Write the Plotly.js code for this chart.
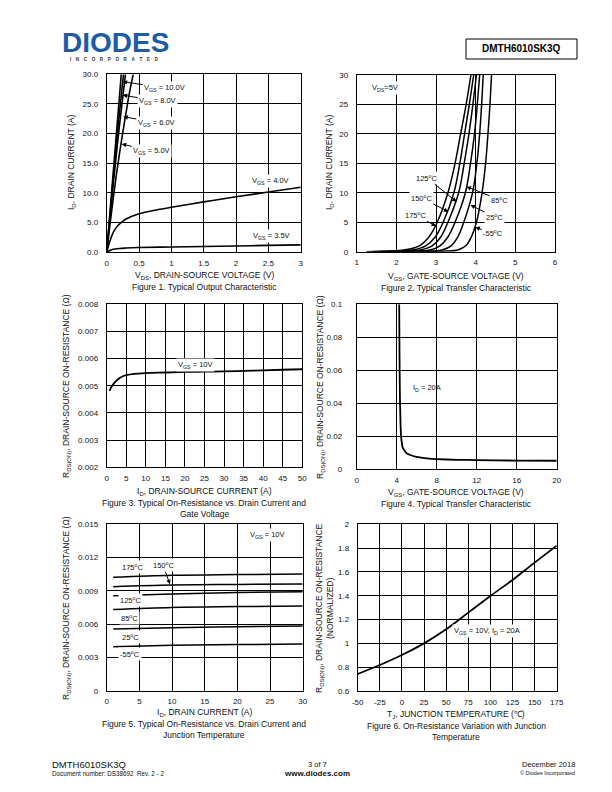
<!DOCTYPE html>
<html><head><meta charset="utf-8">
<script src="https://cdn.plot.ly/plotly-3.0.1.min.js"></script>
<style>html,body{margin:0;padding:0;background:#fff}</style>
</head><body>
<div id="chart" style="width:612px;height:792px"></div>
<script>
// ---------- Figure 1: output characteristic ----------
const f1_vgs10_x = [0, 0.05, 0.1, 0.15, 0.2, 0.225];
const f1_vgs10_y = [0, 6.6, 13.3, 20.0, 26.6, 30];
const f1_vgs8_x = [0, 0.05, 0.1, 0.15, 0.2, 0.26];
const f1_vgs8_y = [0, 6.2, 12.3, 18.2, 23.8, 30];
const f1_vgs6_x = [0, 0.05, 0.1, 0.15, 0.2, 0.25, 0.29];
const f1_vgs6_y = [0, 5.7, 11.3, 16.6, 21.6, 26.3, 30];
const f1_vgs5_x = [0, 0.05, 0.1, 0.15, 0.2, 0.25, 0.3, 0.35, 0.41];
const f1_vgs5_y = [0, 4.6, 9.0, 13.1, 16.8, 20.3, 23.6, 26.8, 30];
const f1_vgs4_x = [0, 0.05, 0.1, 0.15, 0.2, 0.3, 0.5, 0.75, 1, 1.5, 2, 2.5, 3];
const f1_vgs4_y = [0, 1.9, 3.3, 4.2, 4.8, 5.6, 6.5, 7.1, 7.6, 8.5, 9.35, 10.15, 10.95];
const f1_vgs35_x = [0, 0.05, 0.1, 0.2, 0.3, 0.5, 1, 1.5, 2, 2.5, 3];
const f1_vgs35_y = [0, 0.3, 0.5, 0.65, 0.72, 0.8, 0.9, 0.98, 1.07, 1.16, 1.25];
const f1_xticks = [0, 0.5, 1, 1.5, 2, 2.5, 3];
const f1_xtext = ["0", "0.5", "1", "1.5", "2", "2.5", "3"];
const f1_yticks = [0, 5, 10, 15, 20, 25, 30];
const f1_ytext = ["0.0", "5.0", "10.0", "15.0", "20.0", "25.0", "30.0"];

// ---------- Figure 2: transfer characteristic ----------
const f2_id = [0, 0.1, 0.3, 1, 2.5, 5, 10, 15, 20, 25, 30];
const f2_vgs_175 = [1.25, 1.8, 2.2, 2.58, 2.82, 3.03, 3.3, 3.48, 3.62, 3.76, 3.88];
const f2_vgs_150 = [1.4, 2.0, 2.4, 2.74, 2.98, 3.18, 3.45, 3.6, 3.72, 3.84, 3.95];
const f2_vgs_125 = [1.55, 2.2, 2.6, 2.9, 3.12, 3.3, 3.57, 3.71, 3.83, 3.93, 4.02];
const f2_vgs_85 = [1.8, 2.45, 2.85, 3.1, 3.3, 3.48, 3.74, 3.87, 3.97, 4.04, 4.10];
const f2_vgs_25 = [2.1, 2.8, 3.15, 3.38, 3.55, 3.7, 3.92, 4.03, 4.1, 4.15, 4.19];
const f2_vgs_m55 = [2.6, 3.25, 3.55, 3.75, 3.89, 4.02, 4.16, 4.25, 4.31, 4.36, 4.40];
const f2_xticks = [1, 2, 3, 4, 5, 6];
const f2_xtext = ["1", "2", "3", "4", "5", "6"];
const f2_yticks = [0, 5, 10, 15, 20, 25, 30];
const f2_ytext = ["0", "5", "10", "15", "20", "25", "30"];

// ---------- Figure 3: Rds(on) vs drain current ----------
const f3_id = [0.7, 1.2, 2, 3, 4, 5, 7, 10, 15, 20, 25, 30, 35, 40, 45, 50];
const f3_rds = [0.00481, 0.00496, 0.00512, 0.00525, 0.00534, 0.00539, 0.00544, 0.00547, 0.00549, 0.00551, 0.00552, 0.00553, 0.00555, 0.00557, 0.00559, 0.00561];
const f3_xticks = [0, 5, 10, 15, 20, 25, 30, 35, 40, 45, 50];
const f3_xtext = ["0", "5", "10", "15", "20", "25", "30", "35", "40", "45", "50"];
const f3_yticks = [0.002, 0.003, 0.004, 0.005, 0.006, 0.007, 0.008];
const f3_ytext = ["0.002", "0.003", "0.004", "0.005", "0.006", "0.007", "0.008"];

// ---------- Figure 4: Rds(on) vs gate voltage ----------
const f4_vgs = [4.25, 4.28, 4.32, 4.38, 4.45, 4.6, 5.0, 5.5, 6, 7, 8, 10, 12, 16, 20];
const f4_rds = [0.1, 0.07, 0.045, 0.028, 0.019, 0.013, 0.0095, 0.0082, 0.0074, 0.0065, 0.006, 0.0056, 0.0054, 0.0051, 0.005];
const f4_xticks = [0, 4, 8, 12, 16, 20];
const f4_xtext = ["0", "4", "8", "12", "16", "20"];
const f4_yticks = [0, 0.02, 0.04, 0.06, 0.08, 0.1];
const f4_ytext = ["0", "0.02", "0.04", "0.06", "0.08", "0.1"];

// ---------- Figure 5: Rds(on) vs current and temperature ----------
const f5_id = [1, 10, 20, 30];
const f5_r175 = [0.01022, 0.01040, 0.01047, 0.01052];
const f5_r150 = [0.00938, 0.00953, 0.00958, 0.00962];
const f5_r125 = [0.00857, 0.00872, 0.00885, 0.00893];
const f5_r85 = [0.00733, 0.00751, 0.00758, 0.00763];
const f5_r25 = [0.00556, 0.00568, 0.00577, 0.00583];
const f5_rm55 = [0.00397, 0.00409, 0.00416, 0.00421];
const f5_xticks = [0, 5, 10, 15, 20, 25, 30];
const f5_xtext = ["0", "5", "10", "15", "20", "25", "30"];
const f5_yticks = [0, 0.003, 0.006, 0.009, 0.012, 0.015];
const f5_ytext = ["0", "0.003", "0.006", "0.009", "0.012", "0.015"];

// ---------- Figure 6: normalized Rds(on) vs temperature ----------
const f6_tj = [-50, -25, 0, 25, 50, 75, 100, 125, 150, 175];
const f6_rn = [0.743, 0.818, 0.902, 1.0, 1.118, 1.258, 1.398, 1.533, 1.678, 1.821];
const f6_xticks = [-50, -25, 0, 25, 50, 75, 100, 125, 150, 175];
const f6_xtext = ["-50", "-25", "0", "25", "50", "75", "100", "125", "150", "175"];
const f6_yticks = [0.6, 0.8, 1, 1.2, 1.4, 1.6, 1.8, 2];
const f6_ytext = ["0.6", "0.8", "1", "1.2", "1.4", "1.6", "1.8", "2"];

// ---------- helpers ----------
const W = 612, H = 792;
const FONT = 'Liberation Sans, Arial, sans-serif';
const PX = p => p / W;
const PY = p => 1 - p / H;
const TS = 8.5;   // axis title / caption size

function line(x, y, xa, ya, w, smooth) {
  return {x: x, y: y, xaxis: xa, yaxis: ya, type: 'scatter', mode: 'lines',
    line: {color: '#000', width: w || 1.6, shape: 'spline', smoothing: smooth === undefined ? 1 : smooth},
    hoverinfo: 'skip', showlegend: false, cliponaxis: true};
}

const traces = [
  line(f1_vgs10_x, f1_vgs10_y, 'x', 'y', 1.6),
  line(f1_vgs8_x, f1_vgs8_y, 'x', 'y', 1.6),
  line(f1_vgs6_x, f1_vgs6_y, 'x', 'y', 1.6),
  line(f1_vgs5_x, f1_vgs5_y, 'x', 'y', 1.6),
  line(f1_vgs4_x, f1_vgs4_y, 'x', 'y', 1.6),
  line(f1_vgs35_x, f1_vgs35_y, 'x', 'y', 1.6),
  line(f2_vgs_175, f2_id, 'x2', 'y2', 1.5),
  line(f2_vgs_150, f2_id, 'x2', 'y2', 1.5),
  line(f2_vgs_125, f2_id, 'x2', 'y2', 1.5),
  line(f2_vgs_85, f2_id, 'x2', 'y2', 1.5),
  line(f2_vgs_25, f2_id, 'x2', 'y2', 1.5),
  line(f2_vgs_m55, f2_id, 'x2', 'y2', 1.5),
  line(f3_id, f3_rds, 'x3', 'y3', 1.8),
  line(f4_vgs, f4_rds, 'x4', 'y4', 1.8, 0.4),
  line(f5_id, f5_r175, 'x5', 'y5', 1.5),
  line(f5_id, f5_r150, 'x5', 'y5', 1.5),
  line(f5_id, f5_r125, 'x5', 'y5', 1.5),
  line(f5_id, f5_r85, 'x5', 'y5', 1.5),
  line(f5_id, f5_r25, 'x5', 'y5', 1.5),
  line(f5_id, f5_rm55, 'x5', 'y5', 1.5),
  line(f6_tj, f6_rn, 'x6', 'y6', 1.8)
];

function axis(dom, range, anchor, tv, tt, isY) {
  const d = isY ? [PY(dom[1]), PY(dom[0])] : [PX(dom[0]), PX(dom[1])];
  return {domain: d, range: range, anchor: anchor, tickmode: 'array', tickvals: tv, ticktext: tt,
    showgrid: true, gridcolor: '#000', gridwidth: 1, zeroline: false,
    showline: true, linecolor: '#000', linewidth: 1, mirror: true,
    ticks: '', ticklabelstandoff: isY ? 6 : 3,
    tickfont: {family: FONT, size: 8, color: '#111'}, fixedrange: true};
}

const ann = [];
function txt(t, x, y, o) {
  ann.push(Object.assign({text: t, x: PX(x), y: PY(y), xref: 'paper', yref: 'paper',
    showarrow: false, xanchor: 'center', yanchor: 'middle',
    font: {family: FONT, size: 7.5, color: '#111'}}, o || {}));
}
function ttl(t, x, y, o) { txt(t, x, y, Object.assign({font: {family: FONT, size: TS, color: '#111'}}, o || {})); }
function lbl(t, x, y) { txt(t, x, y, {bgcolor: '#fff', borderpad: 1}); }
function arr(t, xa, ya, xv, yv, ax, ay) {
  ann.push({text: t, x: xv, y: yv, xref: xa, yref: ya, ax: ax, ay: ay, showarrow: true,
    arrowhead: 2, arrowsize: 0.9, arrowwidth: 1, arrowcolor: '#000', standoff: 0,
    bgcolor: '#fff', borderpad: 1,
    font: {family: FONT, size: 7.5, color: '#111'}});
}
const GS = 'V<sub>GS</sub>';
const deg = t => t + '<sup>o</sup>C';

// Figure 1 labels
arr(GS + ' = 10.0V', 'x', 'y', 0.247, 28.75, 42, 6);
arr(GS + ' = 8.0V', 'x', 'y', 0.247, 26.5, 35, 6);
arr(GS + ' = 6.0V', 'x', 'y', 0.257, 22.86, 33, 6);
arr(GS + ' = 5.0V', 'x', 'y', 0.232, 18.25, 30, 7);
lbl(GS + ' = 4.0V', 270, 181);
lbl(GS + ' = 3.5V', 271, 236);
ttl('V<sub>DS</sub>, DRAIN-SOURCE VOLTAGE (V)', 204, 275);
ttl('Figure 1. Typical Output Characteristic', 204, 287);
ttl('I<sub>D</sub>, DRAIN CURRENT (A)', 72, 163, {textangle: -90});

// Figure 2 labels
lbl('V<sub>DS</sub>=5V', 385, 88);
arr(deg('125'), 'x2', 'y2', 3.52, 8.49, -30, -24);
arr(deg('150'), 'x2', 'y2', 3.31, 6.79, -27, -14);
arr(deg('175'), 'x2', 'y2', 3.0, 4.36, -21, -11);
arr(deg('85'), 'x2', 'y2', 3.77, 11.04, 33, 13);
arr(deg('25'), 'x2', 'y2', 3.87, 7.93, 24, 12);
arr(deg('-55'), 'x2', 'y2', 3.99, 4.14, 18, 6);
ttl('V<sub>GS</sub>, GATE-SOURCE VOLTAGE (V)', 456, 276);
ttl('Figure 2. Typical Transfer Characteristic', 456, 288);
ttl('I<sub>D</sub>, DRAIN CURRENT (A)', 330, 163, {textangle: -90});

// Figure 3 labels
lbl(GS + ' = 10V', 195, 365);
ttl('I<sub>D</sub>, DRAIN-SOURCE CURRENT (A)', 204, 491);
ttl('Figure 3. Typical On-Resistance vs. Drain Current and', 204, 503);
ttl('Gate Voltage', 204, 514);
ttl('R<sub>DS(ON)</sub>, DRAIN-SOURCE ON-RESISTANCE (Ω)', 66, 386, {textangle: -90});

// Figure 4 labels
txt('I<sub>D</sub> = 20A', 427, 388);
ttl('V<sub>GS</sub>, GATE-SOURCE VOLTAGE (V)', 456, 492);
ttl('Figure 4. Typical Transfer Characteristic', 456, 504);
ttl('R<sub>DS(ON)</sub>, DRAIN-SOURCE ON-RESISTANCE (Ω)', 320, 387, {textangle: -90});

// Figure 5 labels
lbl(GS + ' = 10V', 267, 535);
lbl(deg('175'), 132, 567);
arr(deg('150'), 'x5', 'y5', 9.69, 0.00959, -7, -19);
lbl(deg('125'), 130, 600);
lbl(deg('85'), 129, 618);
lbl(deg('25'), 130, 637);
lbl(deg('-55'), 130, 654);
ttl('I<sub>D</sub>, DRAIN CURRENT (A)', 204, 712);
ttl('Figure 5. Typical On-Resistance vs. Drain Current and', 204, 724);
ttl('Junction Temperature', 204, 735);
ttl('R<sub>DS(ON)</sub>, DRAIN-SOURCE ON-RESISTANCE (Ω)', 66, 608, {textangle: -90});

// Figure 6 labels
lbl(GS + ' = 10V, I<sub>D</sub> = 20A', 487, 631);
ttl('T<sub>J</sub>, JUNCTION TEMPERATURE (℃)', 456, 714);
ttl('Figure 6. On-Resistance Variation with Junction', 456, 726);
ttl('Temperature', 456, 737);
ttl('R<sub>DS(ON)</sub>, DRAIN-SOURCE ON-RESISTANCE<br>(NORMALIZED)', 324, 608, {textangle: -90});

// Header
txt('<b>DIODES</b>', 115, 42.5, {font: {family: FONT, size: 28, color: '#1d5ba6'}, height: 22, valign: 'middle', borderpad: 0});
const incLetters = 'INCORPORATED'.split('');
txt('<b>' + incLetters.join('\u2003') + '</b>', 114, 59, {font: {family: FONT, size: 4.6, color: '#333'}, borderpad: 0});
txt('<b>DMTH6010SK3Q</b>', 521.5, 49, {font: {family: FONT, size: 10, color: '#000'}});

// Footer
txt('DMTH6010SK3Q', 50, 764, {xanchor: 'left', font: {family: FONT, size: 9.5, color: '#111'}});
txt('Document number: DS38692  Rev. 2 - 2', 50, 773.5, {xanchor: 'left', font: {family: FONT, size: 6.3, color: '#111'}});
txt('3 of 7', 317, 764, {font: {family: FONT, size: 7.5, color: '#111'}});
txt('<b>www.diodes.com</b>', 317, 773.5, {font: {family: FONT, size: 8, color: '#111'}});
txt('December 2018', 577, 764, {xanchor: 'right', font: {family: FONT, size: 7.5, color: '#111'}});
txt('© Diodes Incorporated', 577, 772.5, {xanchor: 'right', font: {family: FONT, size: 5.5, color: '#111'}});

const layout = {
  width: W, height: H, margin: {l: 0, r: 0, t: 0, b: 0},
  paper_bgcolor: '#fff', plot_bgcolor: '#fff', showlegend: false,
  font: {family: FONT, size: 8, color: '#111'},
  xaxis: axis([106.7, 300.7], [0, 3], 'y', f1_xticks, f1_xtext, false),
  yaxis: axis([74.3, 252.3], [0, 30], 'x', f1_yticks, f1_ytext, true),
  xaxis2: axis([356.7, 555], [1, 6], 'y2', f2_xticks, f2_xtext, false),
  yaxis2: axis([75, 251.7], [0, 30], 'x2', f2_yticks, f2_ytext, true),
  xaxis3: axis([106.7, 302.3], [0, 50], 'y3', f3_xticks, f3_xtext, false),
  yaxis3: axis([304.3, 467.3], [0.002, 0.008], 'x3', f3_yticks, f3_ytext, true),
  xaxis4: axis([356.7, 556.7], [0, 20], 'y4', f4_xticks, f4_xtext, false),
  yaxis4: axis([304.3, 469], [0, 0.1], 'x4', f4_yticks, f4_ytext, true),
  xaxis5: axis([106.7, 302.7], [0, 30], 'y5', f5_xticks, f5_xtext, false),
  yaxis5: axis([524.3, 690.7], [0, 0.015], 'x5', f5_yticks, f5_ytext, true),
  xaxis6: axis([357.7, 556.7], [-50, 175], 'y6', f6_xticks, f6_xtext, false),
  yaxis6: axis([524.3, 691], [0.6, 2], 'x6', f6_yticks, f6_ytext, true),
  annotations: ann,
  shapes: [{type: 'rect', xref: 'paper', yref: 'paper', x0: PX(466), x1: PX(577), y0: PY(39), y1: PY(59),
    line: {color: '#000', width: 1}}]
};
layout.yaxis4.ticklabelstandoff = 12;

Plotly.newPlot('chart', traces, layout, {staticPlot: true, displayModeBar: false});
</script>
</body></html>
